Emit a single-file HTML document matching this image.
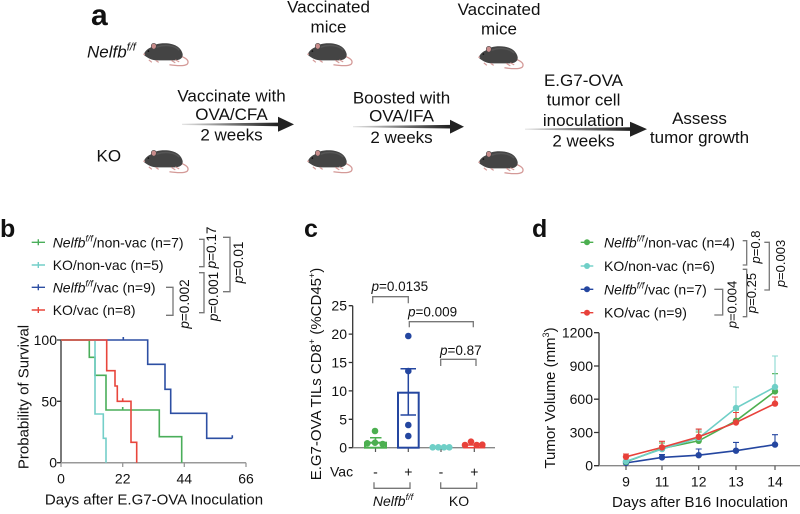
<!DOCTYPE html>
<html><head><meta charset="utf-8"><style>
html,body{margin:0;padding:0;background:#fff;}
svg{display:block;}
text{font-family:"Liberation Sans",Arial,sans-serif;fill:#111;}
</style></head><body>
<svg width="800" height="514" viewBox="0 0 800 514" xmlns="http://www.w3.org/2000/svg">
<defs>
<linearGradient id="ag" x1="0" x2="1" y1="0" y2="0">
<stop offset="0" stop-color="#e6e6e6"/><stop offset="0.5" stop-color="#777"/><stop offset="1" stop-color="#1e1e1e"/>
</linearGradient>
<symbol id="mouse" viewBox="0 0 48 25">
<path d="M38,14 C44,16 48,19 45,22.5 C42,24.5 34,24 27,23" fill="none" stroke="#d49a98" stroke-width="1.3"/>
<path d="M1,12 C2,9 5,6.5 8.5,5 C12,2 16,1 22,1 C32,1 39,5 40.5,12 C41,16 38,18.5 32,18.5 L14,18.5 C10,18.5 5,16.5 1,13 Z" fill="#444"/>
<path d="M14,5 C22,2 32,3 37,8" fill="none" stroke="#555" stroke-width="1.5"/>
<ellipse cx="11" cy="4" rx="2.6" ry="3" fill="#c98d8c" stroke="#444" stroke-width="0.6"/>
<circle cx="5.5" cy="9" r="0.8" fill="#111"/>
<path d="M6,18 L9,20.5 M13,18.5 L16,20.5 M29,18.5 L33,21 M33,18 L37,20" stroke="#d49a98" stroke-width="1.2" fill="none"/>
<circle cx="1.2" cy="12.3" r="0.9" fill="#d49a98"/>
</symbol>
</defs>

<!-- Panel a -->
<text x="91" y="25" font-size="30" font-weight="bold">a</text>
<text x="87" y="57.3" font-size="17"><tspan font-style="italic">Nelfb</tspan><tspan font-size="11" font-style="italic" dy="-7">f/f</tspan></text>
<text x="96.5" y="161.7" font-size="17">KO</text>

<use href="#mouse" x="143" y="42" width="47" height="25"/>
<use href="#mouse" x="143" y="149" width="47" height="25"/>
<use href="#mouse" x="307" y="42" width="47" height="25"/>
<use href="#mouse" x="307" y="149" width="47" height="25"/>
<use href="#mouse" x="478" y="45" width="47" height="25"/>
<use href="#mouse" x="478" y="150" width="47" height="25"/>

<text x="328.5" y="12.7" font-size="17" text-anchor="middle">Vaccinated</text>
<text x="328.5" y="32.3" font-size="17" text-anchor="middle">mice</text>
<text x="499" y="15" font-size="17" text-anchor="middle">Vaccinated</text>
<text x="499" y="34.5" font-size="17" text-anchor="middle">mice</text>

<text x="231.5" y="101.5" font-size="17" text-anchor="middle">Vaccinate with</text>
<text x="231.5" y="120" font-size="17" text-anchor="middle">OVA/CFA</text>
<text x="231.5" y="140.7" font-size="17" text-anchor="middle">2 weeks</text>
<polygon points="182,123.8 279,122.6 279,126.2 182,125" fill="url(#ag)"/>
<polygon points="278,116.8 294,124.4 278,131.8" fill="#222"/>

<text x="401.5" y="103.3" font-size="17" text-anchor="middle">Boosted with</text>
<text x="401.5" y="121.7" font-size="17" text-anchor="middle">OVA/IFA</text>
<text x="401.5" y="143" font-size="17" text-anchor="middle">2 weeks</text>
<polygon points="353,126.1 451,124.9 451,128.5 353,127.3" fill="url(#ag)"/>
<polygon points="450,119.8 464,126.7 450,133.6" fill="#222"/>

<text x="583.5" y="86" font-size="17" text-anchor="middle">E.G7-OVA</text>
<text x="583.5" y="105.5" font-size="17" text-anchor="middle">tumor cell</text>
<text x="583.5" y="126" font-size="17" text-anchor="middle">inoculation</text>
<text x="583.5" y="146.7" font-size="17" text-anchor="middle">2 weeks</text>
<polygon points="525,128.6 631,127.3 631,130.9 525,129.8" fill="url(#ag)"/>
<polygon points="630,121.7 647,129.1 630,136.7" fill="#222"/>

<text x="699.5" y="124" font-size="17" text-anchor="middle">Assess</text>
<text x="699.5" y="143" font-size="17" text-anchor="middle">tumor growth</text>

<!-- Panel b -->
<text x="0" y="237" font-size="25" font-weight="bold">b</text>
<g stroke-width="1.4" fill="none">
<path d="M31.7,242.3 H45 M38.3,239.3 V245.3" stroke="#4aae5a"/>
<path d="M31.7,265 H45 M38.3,262 V268" stroke="#74cfc9"/>
<path d="M31.7,287.3 H45 M38.3,284.3 V290.3" stroke="#2d4fa3"/>
<path d="M31.7,310 H45 M38.3,307 V313" stroke="#e8463c"/>
</g>
<text x="52.7" y="247.3" font-size="14"><tspan font-style="italic">Nelfb</tspan><tspan font-size="9" font-style="italic" dy="-6">f/f</tspan><tspan dy="6">/non-vac (n=7)</tspan></text>
<text x="52.7" y="270" font-size="14">KO/non-vac (n=5)</text>
<text x="52.7" y="292.3" font-size="14"><tspan font-style="italic">Nelfb</tspan><tspan font-size="9" font-style="italic" dy="-6">f/f</tspan><tspan dy="6">/vac (n=9)</tspan></text>
<text x="52.7" y="315" font-size="14">KO/vac (n=8)</text>
<g stroke="#777" stroke-width="1.3" fill="none">
<path d="M199,239.3 H204 V266.7 H199"/>
<path d="M166,287.3 H173 V315.3 H166"/>
<path d="M199,272.7 H204 V312.7 H199"/>
<path d="M223,237.3 H230 V291.7 H223"/>
</g>
<text transform="translate(216,247.5) rotate(-90)" text-anchor="middle" font-size="13.5"><tspan font-style="italic">p</tspan>=0.17</text>
<text transform="translate(189,304) rotate(-90)" text-anchor="middle" font-size="13.5"><tspan font-style="italic">p</tspan>=0.002</text>
<text transform="translate(218,296.5) rotate(-90)" text-anchor="middle" font-size="13.5"><tspan font-style="italic">p</tspan>=0.001</text>
<text transform="translate(243,262.5) rotate(-90)" text-anchor="middle" font-size="13.5"><tspan font-style="italic">p</tspan>=0.01</text>

<!-- KM axes -->
<path d="M61,340 V462.7" stroke="#333" stroke-width="1.3"/>
<path d="M61,462.7 H246" stroke="#999" stroke-width="1.5"/>
<path d="M57,340 H61 M57,401.3 H61 M57,462.7 H61" stroke="#333" stroke-width="1.3"/>
<path d="M61,462.7 V467 M122.7,462.7 V467 M184.3,462.7 V467 M246,462.7 V467" stroke="#999" stroke-width="1.3"/>
<text x="57" y="345" font-size="14" text-anchor="end">100</text>
<text x="57" y="406.3" font-size="14" text-anchor="end">50</text>
<text x="57" y="467.7" font-size="14" text-anchor="end">0</text>
<text x="61" y="483.3" font-size="14" text-anchor="middle">0</text>
<text x="122.7" y="483.3" font-size="14" text-anchor="middle">22</text>
<text x="184.3" y="483.3" font-size="14" text-anchor="middle">44</text>
<text x="246" y="483.3" font-size="14" text-anchor="middle">66</text>
<text x="154" y="504.5" font-size="15" text-anchor="middle">Days after E.G7-OVA Inoculation</text>
<text transform="translate(28.5,397) rotate(-90)" text-anchor="middle" font-size="15">Probability of Survival</text>
<g fill="none" stroke-width="1.6">
<path d="M61,340 H147.7 V364.3 H165 V389.3 H170.7 V413.3 H206.7 V438.3 H232.3 M123.3,337 V340 M232.3,435.3 V438.3" stroke="#2d4fa3"/>
<path d="M61,340 H89.3 V357.3 H95 V375.3 H106 V410 H159.3 V436.7 H181.7 V462.7 M122.7,407 V410" stroke="#4aae5a"/>
<path d="M61,340 H95 V414 H103.3 V438.3 H106 V462.7" stroke="#74cfc9"/>
<path d="M61,340 H106.7 V370.7 H115 V386 H117.3 V401.3 H131 V442.3 H136.7 V462.7 M122.7,398.3 V401.3" stroke="#e8463c"/>
</g>

<!-- Panel c -->
<text x="304" y="237" font-size="25" font-weight="bold">c</text>
<path d="M352.7,305.7 V447.7" stroke="#333" stroke-width="1.3"/>
<path d="M352.7,447.7 H495" stroke="#888" stroke-width="1.3"/>
<path d="M348.7,305.7 H352.7 M348.7,334.1 H352.7 M348.7,362.5 H352.7 M348.7,390.9 H352.7 M348.7,419.3 H352.7 M348.7,447.7 H352.7" stroke="#333" stroke-width="1.3"/>
<path d="M375.5,447.7 V452 M408.3,447.7 V452 M441,447.7 V452 M474.3,447.7 V452" stroke="#555" stroke-width="1.2"/>
<text x="347" y="310.7" font-size="14" text-anchor="end">25</text>
<text x="347" y="339.1" font-size="14" text-anchor="end">20</text>
<text x="347" y="367.5" font-size="14" text-anchor="end">15</text>
<text x="347" y="395.9" font-size="14" text-anchor="end">10</text>
<text x="347" y="424.3" font-size="14" text-anchor="end">5</text>
<text x="347" y="452.7" font-size="14" text-anchor="end">0</text>
<text transform="translate(321,374) rotate(-90)" text-anchor="middle" font-size="15">E.G7-OVA TILs CD8<tspan font-size="9" dy="-6">+</tspan><tspan dy="6"> (%CD45</tspan><tspan font-size="9" dy="-6">+</tspan><tspan dy="6">)</tspan></text>
<!-- bars -->
<rect x="365" y="442.7" width="21" height="5" fill="none" stroke="#4caf50" stroke-width="2"/>
<path d="M375.5,442.7 V437.7 M370,437.7 H381.5" stroke="#4caf50" stroke-width="1.5"/>
<rect x="398" y="392.7" width="20.7" height="55" fill="none" stroke="#2446a0" stroke-width="2"/>
<path d="M408.3,415 V368.7 M400.5,368.7 H416 M400.5,415 H416" stroke="#2446a0" stroke-width="1.5"/>
<path d="M431,447 H451" stroke="#6fcfc7" stroke-width="2"/>
<rect x="464" y="445" width="20.5" height="2.7" fill="none" stroke="#e8413a" stroke-width="1.5"/>
<g fill="#4caf50"><circle cx="375" cy="431" r="3.3"/><circle cx="367.3" cy="443.3" r="3.3"/><circle cx="375" cy="442.7" r="3.3"/><circle cx="382.7" cy="444" r="3.3"/></g>
<g fill="#2446a0"><circle cx="408.3" cy="336" r="3.3"/><circle cx="408.3" cy="371" r="3.3"/><circle cx="408.3" cy="425" r="3.3"/><circle cx="408.3" cy="436" r="3.3"/></g>
<g fill="#6fcfc7"><circle cx="432.7" cy="447.3" r="3.3"/><circle cx="438.3" cy="447.3" r="3.3"/><circle cx="444" cy="447.3" r="3.3"/><circle cx="449.3" cy="447.3" r="3.3"/></g>
<g fill="#e8413a"><circle cx="465" cy="445" r="3.3"/><circle cx="471" cy="441.7" r="3.3"/><circle cx="476.7" cy="445" r="3.3"/><circle cx="482.3" cy="444.7" r="3.3"/></g>
<!-- p brackets -->
<g stroke="#777" stroke-width="1.3" fill="none">
<path d="M372.7,303.3 V296.7 H408.3 V303.3"/>
<path d="M409.3,327.3 V321.7 H473.3 V327.3"/>
<path d="M440.7,366 V359.3 H476 V366"/>
<path d="M374,482.3 V488.3 H410 V482.3"/>
<path d="M440.7,482.3 V488.3 H476.7 V482.3"/>
</g>
<text x="371.5" y="291" font-size="13.5"><tspan font-style="italic">p</tspan>=0.0135</text>
<text x="408" y="316.5" font-size="13.5"><tspan font-style="italic">p</tspan>=0.009</text>
<text x="440" y="355" font-size="13.5"><tspan font-style="italic">p</tspan>=0.87</text>
<text x="330" y="476.5" font-size="14">Vac</text>
<text x="375.5" y="476.5" font-size="14" text-anchor="middle">-</text>
<text x="408.3" y="476.5" font-size="14" text-anchor="middle">+</text>
<text x="441" y="476.5" font-size="14" text-anchor="middle">-</text>
<text x="474.3" y="476.5" font-size="14" text-anchor="middle">+</text>
<text x="393" y="506" font-size="14" text-anchor="middle"><tspan font-style="italic">Nelfb</tspan><tspan font-size="9" font-style="italic" dy="-6">f/f</tspan></text>
<text x="459" y="506" font-size="14" text-anchor="middle">KO</text>

<!-- Panel d -->
<text x="532" y="237" font-size="25" font-weight="bold">d</text>
<g stroke-width="1.4">
<path d="M580.7,242.3 H593.3" stroke="#4caf50"/><circle cx="587" cy="242.3" r="3" fill="#4caf50"/>
<path d="M580.7,266 H593.3" stroke="#6fcfc7"/><circle cx="587" cy="266" r="3" fill="#6fcfc7"/>
<path d="M580.7,289.3 H593.3" stroke="#2446a0"/><circle cx="587" cy="289.3" r="3" fill="#2446a0"/>
<path d="M580.7,312.7 H593.3" stroke="#e8413a"/><circle cx="587" cy="312.7" r="3" fill="#e8413a"/>
</g>
<text x="604" y="247.3" font-size="14"><tspan font-style="italic">Nelfb</tspan><tspan font-size="9" font-style="italic" dy="-6">f/f</tspan><tspan dy="6">/non-vac (n=4)</tspan></text>
<text x="604" y="271" font-size="14">KO/non-vac (n=6)</text>
<text x="604" y="294.3" font-size="14"><tspan font-style="italic">Nelfb</tspan><tspan font-size="9" font-style="italic" dy="-6">f/f</tspan><tspan dy="6">/vac (n=7)</tspan></text>
<text x="604" y="317.7" font-size="14">KO/vac (n=9)</text>
<g stroke="#777" stroke-width="1.3" fill="none">
<path d="M742.7,240.7 H746.7 V265 H742.7"/>
<path d="M714.3,289.3 H722.7 V315 H714.3"/>
<path d="M742.7,269.3 H746.7 V316.7 H742.7"/>
<path d="M764.3,242.3 H769.3 V290 H764.3"/>
</g>
<text transform="translate(760,247) rotate(-90)" text-anchor="middle" font-size="13"><tspan font-style="italic">p</tspan>=0.8</text>
<text transform="translate(736.5,304.5) rotate(-90)" text-anchor="middle" font-size="13"><tspan font-style="italic">p</tspan>=0.004</text>
<text transform="translate(756,293) rotate(-90)" text-anchor="middle" font-size="13"><tspan font-style="italic">p</tspan>=0.25</text>
<text transform="translate(785,263.5) rotate(-90)" text-anchor="middle" font-size="13"><tspan font-style="italic">p</tspan>=0.003</text>

<path d="M599,332.7 V465.7" stroke="#333" stroke-width="1.3"/>
<path d="M599,465.7 H800" stroke="#888" stroke-width="1.3"/>
<path d="M594,332.7 H599 M594,366 H599 M594,399.2 H599 M594,432.5 H599 M594,465.7 H599" stroke="#333" stroke-width="1.3"/>
<path d="M626,465.7 V470 M662,465.7 V470 M698.7,465.7 V470 M736,465.7 V470 M775,465.7 V470" stroke="#555" stroke-width="1.2"/>
<text x="593" y="337.7" font-size="14" text-anchor="end">1200</text>
<text x="593" y="371" font-size="14" text-anchor="end">900</text>
<text x="593" y="404.2" font-size="14" text-anchor="end">600</text>
<text x="593" y="437.5" font-size="14" text-anchor="end">300</text>
<text x="593" y="470.7" font-size="14" text-anchor="end">0</text>
<text x="626" y="486.7" font-size="14" text-anchor="middle">9</text>
<text x="662" y="486.7" font-size="14" text-anchor="middle">11</text>
<text x="698.7" y="486.7" font-size="14" text-anchor="middle">12</text>
<text x="736" y="486.7" font-size="14" text-anchor="middle">13</text>
<text x="775" y="486.7" font-size="14" text-anchor="middle">14</text>
<text x="700" y="507" font-size="15" text-anchor="middle">Days after B16 Inoculation</text>
<text transform="translate(555,398) rotate(-90)" text-anchor="middle" font-size="15">Tumor Volume (mm<tspan font-size="9" dy="-6">3</tspan><tspan dy="6">)</tspan></text>

<!-- error bars -->
<g stroke-width="1.1" fill="none">
<path d="M662,448.5 V443 M659,443 H665 M698.7,440.8 V432 M695.7,432 H701.7 M736,420.8 V410 M733,410 H739 M775,391.4 V373.7 M772,373.7 H778" stroke="#4caf50"/>
<path d="M662,449.1 V446 M659,446 H665 M698.7,438 V430.2 M695.7,430.2 H701.7 M736,408 V387 M733,387 H739 M775,387 V356 M772,356 H778" stroke="#8ad8d2"/>
<path d="M626,456.8 V454 M623,454 H629 M662,447.4 V441.3 M659,441.3 H665 M698.7,436.9 V429.1 M695.7,429.1 H701.7 M736,422.5 V412.5 M733,412.5 H739 M775,403.6 V397 M772,397 H778" stroke="#e8413a"/>
<path d="M662,457.4 V454.6 M659,454.6 H665 M698.7,455.2 V449 M695.7,449 H701.7 M736,450.7 V442.4 M733,442.4 H739 M775,444.6 V434.7 M772,434.7 H778" stroke="#2446a0"/>
</g>
<g stroke-width="1.6" fill="none">
<polyline points="626,462.9 662,457.4 698.7,455.2 736,450.7 775,444.6" stroke="#2446a0"/>
<polyline points="626,461.8 662,448.5 698.7,440.8 736,420.8 775,391.4" stroke="#4caf50"/>
<polyline points="626,461.3 662,449.1 698.7,438 736,408 775,387" stroke="#6fcfc7"/>
<polyline points="626,456.8 662,447.4 698.7,436.9 736,422.5 775,403.6" stroke="#e8413a"/>
</g>
<g fill="#2446a0"><circle cx="626" cy="462.9" r="3.2"/><circle cx="662" cy="457.4" r="3.2"/><circle cx="698.7" cy="455.2" r="3.2"/><circle cx="736" cy="450.7" r="3.2"/><circle cx="775" cy="444.6" r="3.2"/></g>
<g fill="#4caf50"><circle cx="626" cy="461.8" r="3.2"/><circle cx="662" cy="448.5" r="3.2"/><circle cx="698.7" cy="440.8" r="3.2"/><circle cx="736" cy="420.8" r="3.2"/><circle cx="775" cy="391.4" r="3.2"/></g>
<g fill="#6fcfc7"><circle cx="626" cy="461.3" r="3.2"/><circle cx="662" cy="449.1" r="3.2"/><circle cx="698.7" cy="438" r="3.2"/><circle cx="736" cy="408" r="3.2"/><circle cx="775" cy="387" r="3.2"/></g>
<g fill="#e8413a"><circle cx="626" cy="456.8" r="3.2"/><circle cx="662" cy="447.4" r="3.2"/><circle cx="698.7" cy="436.9" r="3.2"/><circle cx="736" cy="422.5" r="3.2"/><circle cx="775" cy="403.6" r="3.2"/></g>
</svg>
</body></html>
